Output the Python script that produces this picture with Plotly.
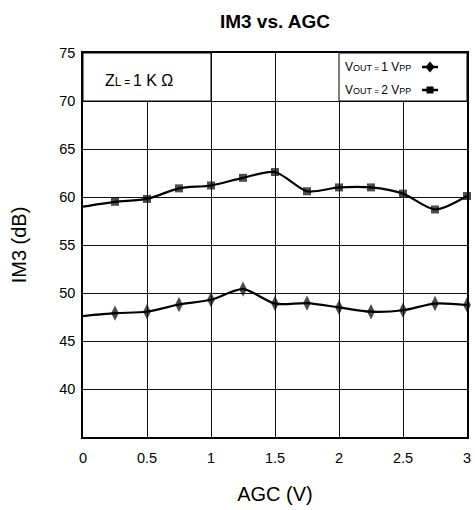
import plotly.graph_objects as go

# Data
agc_v = [0, 0.25, 0.5, 0.75, 1.0, 1.25, 1.5, 1.75, 2.0, 2.25, 2.5, 2.75, 3.0]
im3_1vpp = [47.6, 47.9, 48.05, 48.8, 49.3, 50.4, 48.9, 48.95, 48.5, 48.05, 48.2, 48.9, 48.75]
im3_2vpp = [59.0, 59.5, 59.8, 60.9, 61.2, 62.0, 62.6, 60.6, 61.0, 61.0, 60.35, 58.7, 60.1]
x_ticks = [0, 0.5, 1, 1.5, 2, 2.5, 3]
x_tick_text = ["0", "0.5", "1", "1.5", "2", "2.5", "3"]
y_ticks = [40, 45, 50, 55, 60, 65, 70, 75]

FONT = "Liberation Sans, Arial, sans-serif"
W, H = 475, 510
L, R, T, B = 83, 8, 53, 73
PW, PH = W - L - R, H - T - B

def px(xp):
    return (xp - L) / PW

def py(yp):
    return (H - B - yp) / PH

marker_sizes_d = [0] + [11] * (len(agc_v) - 1)
marker_sizes_s = [0] + [8] * (len(agc_v) - 1)

fig = go.Figure()
fig.add_trace(go.Scatter(
    x=agc_v, y=im3_1vpp, mode="lines+markers",
    line=dict(color="black", width=2.2, shape="spline", smoothing=0.8),
    marker=dict(symbol="diamond-tall", size=marker_sizes_d, color="black",
                line=dict(width=0)),
    showlegend=False, cliponaxis=False,
))
fig.add_trace(go.Scatter(
    x=agc_v, y=im3_2vpp, mode="lines+markers",
    line=dict(color="black", width=2.2, shape="spline", smoothing=0.8),
    marker=dict(symbol="square", size=marker_sizes_s, color="black",
                line=dict(width=0)),
    showlegend=False, cliponaxis=False,
))

shapes = []
# annotation boxes covering the grid
shapes.append(dict(type="rect", xref="x", yref="y", x0=0, x1=1, y0=70, y1=75,
                   fillcolor="white", line=dict(color="black", width=1), layer="between"))
shapes.append(dict(type="rect", xref="x", yref="y", x0=2, x1=3, y0=70, y1=75,
                   fillcolor="white", line=dict(color="black", width=1), layer="between"))

# legend symbols (decorative)
def legend_line(xc, yc):
    return dict(type="line", xref="paper", yref="paper",
                x0=px(xc - 8), x1=px(xc + 8), y0=py(yc), y1=py(yc),
                line=dict(color="black", width=2.5), layer="above")

xc1, yc1 = 430, 67
xc2, yc2 = 430, 90
shapes.append(legend_line(xc1, yc1))
shapes.append(dict(type="path", xref="paper", yref="paper", layer="above",
                   path="M {} {} L {} {} L {} {} L {} {} Z".format(
                       px(xc1 - 4.5), py(yc1), px(xc1), py(yc1 - 5.5),
                       px(xc1 + 4.5), py(yc1), px(xc1), py(yc1 + 5.5)),
                   fillcolor="black", line=dict(width=0)))
shapes.append(legend_line(xc2, yc2))
shapes.append(dict(type="rect", xref="paper", yref="paper", layer="above",
                   x0=px(xc2 - 3.5), x1=px(xc2 + 3.5), y0=py(yc2 + 3.5), y1=py(yc2 - 3.5),
                   fillcolor="black", line=dict(width=0)))

def sp(size, s):
    return "<span style='font-size:{}px'>{}</span>".format(size, s)

annotations = [
    dict(xref="paper", yref="paper", x=px(103), y=py(80), xanchor="left", yanchor="middle",
         text="Z" + sp(12, "L") + sp(10, " = ") + "1 K Ω", showarrow=False,
         font=dict(family=FONT, size=16, color="black")),
    dict(xref="paper", yref="paper", x=px(343), y=py(67), xanchor="left", yanchor="middle",
         text="V" + sp(9, "OUT") + sp(8, " = ") + "1 V" + sp(9, "PP"), showarrow=False,
         font=dict(family=FONT, size=12, color="black")),
    dict(xref="paper", yref="paper", x=px(343), y=py(90), xanchor="left", yanchor="middle",
         text="V" + sp(9, "OUT") + sp(8, " = ") + "2 V" + sp(9, "PP"), showarrow=False,
         font=dict(family=FONT, size=12, color="black")),
]

fig.update_layout(
    width=W, height=H,
    margin=dict(l=L, r=R, t=T, b=B, pad=0, autoexpand=False),
    paper_bgcolor="white", plot_bgcolor="white",
    font=dict(family=FONT, color="black"),
    title=dict(text="<b>IM3 vs. AGC</b>", x=px(275), xref="paper", xanchor="center",
               y=1 - 21.5 / H, yref="container", yanchor="middle",
               font=dict(family=FONT, size=19, color="black")),
    shapes=shapes,
    annotations=annotations,
)
fig.update_xaxes(
    range=[0, 3], tickvals=x_ticks, ticktext=x_tick_text,
    showgrid=True, gridcolor="#111", gridwidth=1,
    showline=True, linecolor="black", linewidth=1.5, mirror=True,
    zeroline=False, ticks="outside", ticklen=7, tickcolor="rgba(0,0,0,0)",
    tickfont=dict(family=FONT, size=14.5, color="black"), automargin=False,
    title=dict(text="AGC (V)", font=dict(family=FONT, size=20, color="black"), standoff=22),
)
fig.update_yaxes(
    range=[35, 75], tickvals=y_ticks,
    showgrid=True, gridcolor="#111", gridwidth=1,
    showline=True, linecolor="black", linewidth=1.5, mirror=True,
    zeroline=False, ticks="outside", ticklen=3, tickcolor="rgba(0,0,0,0)",
    tickfont=dict(family=FONT, size=14.5, color="black"), automargin=False,
    title=dict(text="IM3 (dB)", font=dict(family=FONT, size=20, color="black"), standoff=27),
)

fig.write_html(
    "out.html",
    config={"displayModeBar": False},
    post_script="document.body.style.margin='0';document.body.style.overflow='hidden';",
)
